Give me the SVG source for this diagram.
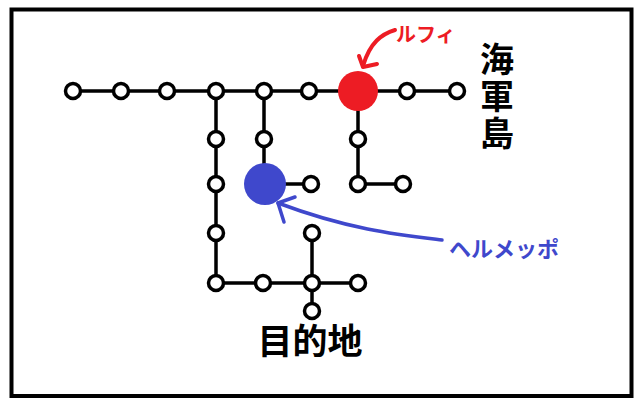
<svg xmlns="http://www.w3.org/2000/svg" width="640" height="405" viewBox="0 0 640 405">
<style>
.ln{stroke:#000;stroke-width:3.5;fill:none;stroke-linecap:round}
.st{fill:#fff;stroke:#000;stroke-width:3.5}
.big{font-family:"Noto Sans CJK JP","Noto Sans",sans-serif;font-weight:bold;fill:#000}
.red{stroke:#ED1C24;stroke-width:4;fill:none;stroke-linecap:round;stroke-linejoin:round}
.blue{stroke:#3F48CC;stroke-width:3.5;fill:none;stroke-linecap:round;stroke-linejoin:round}
</style>
<rect width="640" height="405" fill="#fff"/>
<rect x="11.5" y="9.5" width="620" height="386.5" fill="none" stroke="#000" stroke-width="4"/>
<g id="connectors">
<path class="ln" d="M73 91H457"/>
<path class="ln" d="M216 91V283H358"/>
<path class="ln" d="M264 91V184H311"/>
<path class="ln" d="M358 91V184H403"/>
<path class="ln" d="M312 233V311"/>
<path class="red" d="M395 30C382 34 370 42 363 66"/>
<path class="red" d="M359 56L363 67L377 64"/>
<path class="blue" d="M442 240C400 235 350 230 278 203"/>
<path class="blue" d="M295 197L278 203L284 222"/>
</g>
<g id="n1"><circle class="st" cx="73" cy="91" r="7.5"/></g>
<g id="n2"><circle class="st" cx="121" cy="91" r="7.5"/></g>
<g id="n3"><circle class="st" cx="167" cy="91" r="7.5"/></g>
<g id="n4"><circle class="st" cx="216" cy="91" r="7.5"/></g>
<g id="n5"><circle class="st" cx="264" cy="91" r="7.5"/></g>
<g id="n6"><circle class="st" cx="309" cy="91" r="7.5"/></g>
<g id="n8"><circle class="st" cx="407" cy="91" r="7.5"/></g>
<g id="n9"><circle class="st" cx="457" cy="91" r="7.5"/></g>
<g id="n10"><circle class="st" cx="216" cy="139" r="7.5"/></g>
<g id="n11"><circle class="st" cx="216" cy="184" r="7.5"/></g>
<g id="n12"><circle class="st" cx="216" cy="233" r="7.5"/></g>
<g id="n13"><circle class="st" cx="216" cy="283" r="7.5"/></g>
<g id="n14"><circle class="st" cx="264" cy="139" r="7.5"/></g>
<g id="n15"><circle class="st" cx="311" cy="184" r="7.5"/></g>
<g id="n16"><circle class="st" cx="358" cy="139" r="7.5"/></g>
<g id="n17"><circle class="st" cx="358" cy="184" r="7.5"/></g>
<g id="n18"><circle class="st" cx="403" cy="184" r="7.5"/></g>
<g id="n19"><circle class="st" cx="263" cy="283" r="7.5"/></g>
<g id="n20"><circle class="st" cx="312" cy="283" r="7.5"/></g>
<g id="n21"><circle class="st" cx="358" cy="283" r="7.5"/></g>
<g id="n22"><circle class="st" cx="312" cy="233" r="7.5"/></g>
<g id="n23"><circle class="st" cx="312" cy="311" r="7.5"/></g>
<g id="luffy"><circle cx="358" cy="91" r="20" fill="#ED1C24"/>
<text x="396" y="42" font-family="'Noto Sans CJK JP',sans-serif" font-size="20" font-weight="bold" fill="#ED1C24">ルフィ</text></g>
<g id="helmeppo"><circle cx="265" cy="184" r="21" fill="#3F48CC"/>
<text x="449" y="257" font-family="'Noto Sans CJK JP',sans-serif" font-size="22" font-weight="bold" fill="#3F48CC">ヘルメッポ</text></g>
<g id="island"><text class="big" x="497" y="42" font-size="34" letter-spacing="3" writing-mode="vertical-rl">海軍島</text></g>
<g id="goal"><text class="big" x="310" y="354" font-size="35" text-anchor="middle">目的地</text></g>
</svg>
